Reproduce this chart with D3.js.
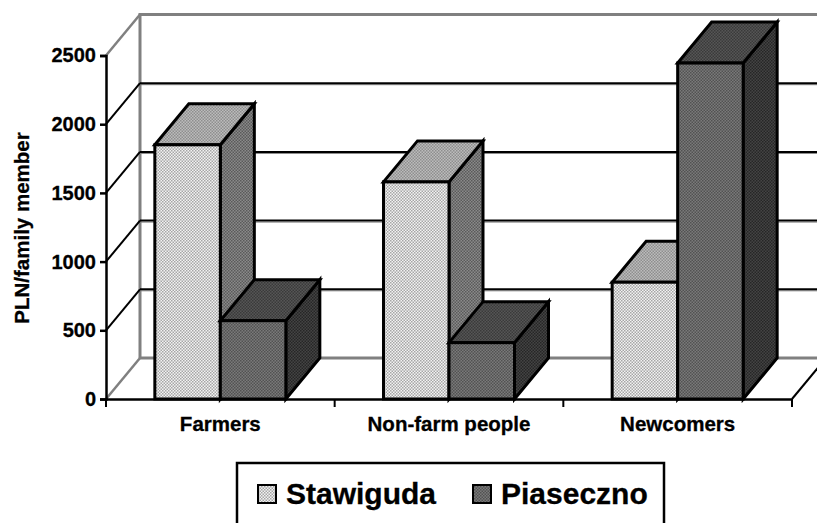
<!DOCTYPE html>
<html>
<head>
<meta charset="utf-8">
<script src="https://cdn.jsdelivr.net/npm/d3@7"></script>
<style>
  html, body { margin: 0; padding: 0; background: #fff; overflow: hidden; }
  svg { display: block; }
  text { font-family: "Liberation Sans", Arial, sans-serif; font-weight: bold; fill: #000; stroke: #000; stroke-width: 0.3px; }
</style>
</head>
<body>
<svg id="chart" width="817" height="523"></svg>
<script>
const categories = ["Farmers", "Non-farm people", "Newcomers"];
const seriesNames = ["Stawiguda", "Piaseczno"];
const stawiguda = [1850, 1580, 850];
const piaseczno = [570, 410, 2445];
const yTicks = [0, 500, 1000, 1500, 2000, 2500];

const svg = d3.select("#chart");

const plotLeft = 106, plotRight = 792, plotBottom = 399, plotTop = 55.5;
const depthX = 34, depthY = -41;
const barW = 65.5;

const x = d3.scaleBand().domain(categories).range([plotLeft, plotRight]);
const y = d3.scaleLinear().domain([0, 2500]).range([plotBottom, plotTop]);

// stippled fills, the original is a print scan of excel patterns
const defs = svg.append("defs");
function stipple(id, a, b) {
  const p = defs.append("pattern").attr("id", id)
    .attr("width", 3).attr("height", 3)
    .attr("patternUnits", "userSpaceOnUse");
  p.append("rect").attr("width", 3).attr("height", 3).attr("fill", a);
  p.append("rect").attr("width", 1.5).attr("height", 1.5).attr("fill", b);
  p.append("rect").attr("x", 1.5).attr("y", 1.5).attr("width", 1.5).attr("height", 1.5).attr("fill", b);
}
stipple("s-front", "#f2f2f2", "#a6a6a6");
stipple("s-top", "#bcbcbc", "#8e8e8e");
stipple("s-side", "#8a8a8a", "#5a5a5a");
stipple("p-front", "#7a7a7a", "#525252");
stipple("p-top", "#565656", "#3a3a3a");
stipple("p-side", "#444444", "#262626");

const fills = [
  { front: "url(#s-front)", top: "url(#s-top)", side: "url(#s-side)" },
  { front: "url(#p-front)", top: "url(#p-top)", side: "url(#p-side)" }
];

// walls and floor
const grid = svg.append("g");
const wallRight = plotRight + depthX;
grid.append("line").attr("x1", plotLeft + depthX).attr("x2", plotLeft + depthX)
  .attr("y1", y(0) + depthY).attr("y2", y(2500) + depthY - 1.5)
  .attr("stroke", "#808080").attr("stroke-width", 3);

yTicks.forEach(t => {
  const gy = y(t);
  const grey = t === 0 || t === 2500;
  const col = grey ? "#808080" : "#000";
  const w = grey ? 3 : 2;
  grid.append("line").attr("x1", plotLeft).attr("y1", gy)
    .attr("x2", plotLeft + depthX).attr("y2", gy + depthY)
    .attr("stroke", col).attr("stroke-width", grey ? 2.5 : 2);
  // black gridlines carry a thin grey edge underneath in the scan
  if (!grey) {
    grid.append("line").attr("x1", plotLeft + depthX).attr("y1", gy + depthY + 1.5)
      .attr("x2", wallRight).attr("y2", gy + depthY + 1.5)
      .attr("stroke", "#808080").attr("stroke-width", 1);
  }
  grid.append("line").attr("x1", plotLeft + depthX).attr("y1", gy + depthY)
    .attr("x2", wallRight).attr("y2", gy + depthY)
    .attr("stroke", col).attr("stroke-width", w);
});
grid.append("line").attr("x1", plotRight).attr("y1", y(0))
  .attr("x2", wallRight).attr("y2", y(0) + depthY)
  .attr("stroke", "#000").attr("stroke-width", 2);

// bars
const rows = categories.flatMap((c, i) => [
  { c, s: 0, v: stawiguda[i] },
  { c, s: 1, v: piaseczno[i] }
]);
const bars = svg.append("g").selectAll("g").data(rows).join("g")
  .attr("stroke", "#000").attr("stroke-width", 3).attr("stroke-linejoin", "miter");

const mid = d => x(d.c) + x.bandwidth() / 2;
const x0 = d => d.s === 0 ? mid(d) - barW : mid(d);
const x1 = d => x0(d) + barW;

bars.append("path").attr("fill", d => fills[d.s].side)
  .attr("d", d => `M${x1(d)},${y(d.v)}L${x1(d) + depthX},${y(d.v) + depthY}L${x1(d) + depthX},${y(0) + depthY}L${x1(d)},${y(0)}Z`);
bars.append("path").attr("fill", d => fills[d.s].top)
  .attr("d", d => `M${x0(d)},${y(d.v)}L${x0(d) + depthX},${y(d.v) + depthY}L${x1(d) + depthX},${y(d.v) + depthY}L${x1(d)},${y(d.v)}Z`);
bars.append("rect").attr("fill", d => fills[d.s].front)
  .attr("x", x0).attr("width", barW)
  .attr("y", d => y(d.v)).attr("height", d => y(0) - y(d.v));

// axes
const yAxis = svg.append("g").attr("transform", `translate(${plotLeft},0)`)
  .call(d3.axisLeft(y).tickValues(yTicks).tickFormat(d3.format("d")).tickSize(6).tickPadding(4));
const xAxis = svg.append("g").attr("transform", `translate(0,${plotBottom})`)
  .call(d3.axisBottom(x).tickValues([]).tickSizeOuter(0));
[0, 1, 2, 3].forEach(i => {
  xAxis.append("line").attr("x1", plotLeft + i * x.bandwidth()).attr("x2", plotLeft + i * x.bandwidth())
    .attr("y1", 0).attr("y2", 8).attr("stroke", "#000").attr("stroke-width", 2);
});
yAxis.selectAll("path,line").attr("stroke", "#000").attr("stroke-width", 2.5);
xAxis.select("path").attr("stroke", "#000").attr("stroke-width", 2.5);
yAxis.selectAll("text").style("font-size", "20px").style("font-family", '"Liberation Sans", Arial, sans-serif').style("font-weight", "bold");

svg.append("g").selectAll("text").data(categories).join("text")
  .attr("x", d => x(d) + x.bandwidth() / 2).attr("y", 431)
  .attr("text-anchor", "middle").style("font-size", "20.5px").text(d => d);

svg.append("text").attr("transform", "translate(29,228) rotate(-90)")
  .attr("text-anchor", "middle").style("font-size", "20.5px").text("PLN/family member");

// legend, box runs off the bottom of the page
const legend = svg.append("g");
legend.append("rect").attr("x", 237).attr("y", 463).attr("width", 427).attr("height", 80)
  .attr("fill", "#fff").attr("stroke", "#000").attr("stroke-width", 2.5);
const legendX = [258, 473];
legend.selectAll("g").data(seriesNames).join("g").each(function (d, i) {
  const g = d3.select(this);
  g.append("rect").attr("x", legendX[i]).attr("y", 485).attr("width", 18).attr("height", 18)
    .attr("fill", fills[i].front).attr("stroke", "#000").attr("stroke-width", 2);
  g.append("text").attr("x", legendX[i] + 28).attr("y", 504)
    .style("font-size", "30px").text(d);
});
</script>
</body>
</html>
